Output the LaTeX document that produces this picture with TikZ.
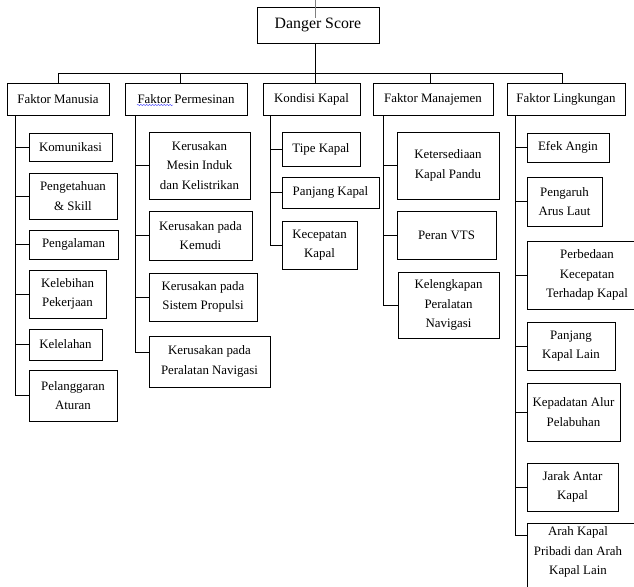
\documentclass[tikz,border=0pt]{standalone}
\usepackage{fontspec}
\setmainfont{Liberation Serif}
\usetikzlibrary{decorations.pathmorphing}
\begin{document}
\begin{tikzpicture}[x=0.3mm,y=-0.3mm,
  line width=0.8pt,
  box/.style={draw,rectangle,align=center,inner sep=0pt,font=\fontsize{11}{16.5}\selectfont},
  txt/.style={align=center,inner sep=0pt,font=\fontsize{11}{16.5}\selectfont},
  sz/.style 2 args={minimum width=#1*0.3mm,minimum height=#2*0.3mm}]

  \useasboundingbox (0,0) rectangle (634,587);
  \clip (0,0) rectangle (634,587);

  % root
  \node[box,sz={122}{36},font=\fontsize{13.5}{16}\selectfont] (danger) at (318,25) {Danger Score};

  % faktor
  \node[box,sz={102}{32}] (manusia) at (58,99) {Faktor Manusia};
  \node[box,sz={122}{32}] (permesinan) at (186,99) {Faktor Permesinan};
  \node[box,sz={97}{32}] (kondisi) at (311.5,99) {Kondisi Kapal};
  \node[box,sz={120}{32}] (manajemen) at (433,99) {Faktor Manajemen};
  \node[box,sz={118}{32}] (lingkungan) at (566,99) {Faktor Lingkungan};

  % manusia
  \node[box,sz={83}{28}] (m1) at (70.5,147) {Komunikasi};
  \node[box,sz={88}{46}] (m2) at (73,196) {Pengetahuan\\\& Skill};
  \node[box,sz={89}{29}] (m3) at (73.5,244.5) {Pengalaman};
  \node[box,sz={77}{48}] (m4) at (67.5,294) {Kelebihan\\Pekerjaan};
  \node[box,sz={73}{31}] (m5) at (65.5,344.5) {Kelelahan};
  \node[box,sz={88}{51}] (m6) at (73,395.5) {Pelanggaran\\Aturan};

  % permesinan
  \node[box,sz={101}{67}] (p1) at (199.5,165.5) {Kerusakan\\Mesin Induk\\dan Kelistrikan};
  \node[box,sz={103}{49}] (p2) at (200.5,235.5) {Kerusakan pada\\Kemudi};
  \node[box,sz={108}{48}] (p3) at (203,297) {Kerusakan pada\\Sistem Propulsi};
  \node[box,sz={121}{51}] (p4) at (209.5,361.5) {Kerusakan pada\\Peralatan Navigasi};

  % kondisi kapal
  \node[box,sz={78}{34}] (k1) at (321,149) {Tipe Kapal};
  \node[box,sz={97}{31}] (k2) at (330.5,192.5) {Panjang Kapal};
  \node[box,sz={75}{48}] (k3) at (319.5,245) {Kecepatan\\Kapal};

  % manajemen
  \node[box,sz={102}{67}] (j1) at (448,165.5) {Ketersediaan\\Kapal Pandu};
  \node[box,sz={99}{48}] (j2) at (446.5,235) {Peran VTS};
  \node[box,sz={101}{66}] (j3) at (448.5,305) {Kelengkapan\\Peralatan\\Navigasi};

  % lingkungan
  \node[box,sz={82}{29}] (l1) at (568,147.5) {Efek Angin};
  \node[box,sz={75}{49}] (l2) at (564.5,201.5) {Pengaruh\\Arus Laut};
  \node[box,sz={120}{68}] (l3) at (587,275) {Perbedaan\\Kecepatan\\Terhadap Kapal};
  \node[box,sz={88}{48}] (l4) at (571,346) {Panjang\\Kapal Lain};
  \node[box,sz={93}{58}] (l5) at (573.5,412) {Kepadatan Alur\\Pelabuhan};
  \node[box,sz={91}{48}] (l6) at (572.5,487) {Jarak Antar\\Kapal};
  \node[box,sz={113}{80},anchor=north west] (l7) at (527,523) {};
  \node[txt] (l7t) at (578,552) {Arah Kapal\\Pribadi dan Arah\\Kapal Lain};

  % connectors
  \coordinate (bus) at (315,73);
  \draw (danger.south -| bus) -- (bus);
  \foreach \n/\x in {manusia/58,permesinan/180,kondisi/315,manajemen/430,lingkungan/562}
    \draw (bus) -| (\n.north -| \x,0);

  \coordinate (ms) at (15,115);
  \coordinate (ps) at (135,115);
  \coordinate (ks) at (270,115);
  \coordinate (js) at (383,115);
  \coordinate (ls) at (515,115);

  \foreach \i in {1,...,6} \draw (ms) |- (m\i.west);
  \foreach \i in {1,...,3} \draw (ps) |- (p\i.west);
  \draw (ps) |- (p4.172);
  \foreach \i in {1,...,3} \draw (ks) |- (k\i.west);
  \foreach \i in {1,...,3} \draw (js) |- (j\i.west);
  \foreach \i in {1,...,6} \draw (ls) |- (l\i.west);
  \draw (ls) |- (l7.west |- 0,535);

  % cursor mark and spelling mark
  \coordinate (cur) at (315,0);
  \draw[line width=0.3pt,gray] (cur) -- ++(0,18);
  \draw[line width=0.4pt,blue!70,decorate,decoration={snake,amplitude=0.5pt,segment length=2.5pt}]
    (137,105) -- (173,105);
\end{tikzpicture}
\end{document}
